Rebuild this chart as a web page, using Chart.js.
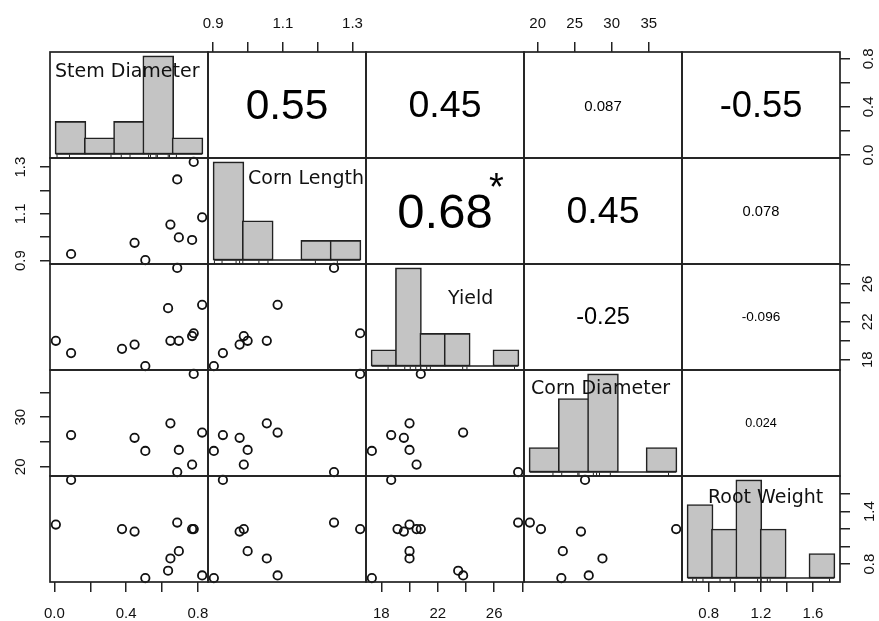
<!DOCTYPE html>
<html lang="en">
<head>
<meta charset="UTF-8">
<title>Correlation chart</title>
<script src="https://cdn.jsdelivr.net/npm/chart.js@4.4.0/dist/chart.umd.min.js"></script>
<style>
  html, body { margin: 0; padding: 0; background: #fff; overflow: hidden; }
  #wrap { position: relative; width: 879px; height: 621px; }
  canvas { position: absolute; }
  .name { position: absolute; font-family: "DejaVu Sans"; font-size: 19px; line-height: 19px; color: #111; white-space: nowrap; }
  .cor { position: absolute; font-family: "Liberation Sans", Arial, sans-serif; line-height: 1; color: #000; white-space: nowrap; transform: translate(-50%, -50%); }
</style>
</head>
<body>
<div id="wrap"></div>
<script>
const varNames = ['Stem Diameter', 'Corn Length', 'Yield', 'Corn Diameter', 'Root Weight'];

// 12 plots, null = missing value
const stemDiameter = [0.008, 0.093, 0.377, 0.447, 0.507, 0.634, 0.647, 0.685, 0.694, 0.768, 0.777, 0.824];
const cornLength   = [null, 0.928, null, 0.976, 0.902, null, 1.054, 1.247, 0.999, 0.988, 1.322, 1.085];
const yieldData    = [20.0, 18.7, 19.15, 19.6, 17.33, 23.45, 20.0, 27.7, 20.0, 20.5, 20.8, 23.8];
const cornDiameter = [null, 26.4, null, 25.85, 23.2, null, 28.75, 18.95, 23.4, 20.45, 38.7, 26.9];
const rootWeight   = [1.252, 1.762, 1.20, 1.172, 0.640, 0.724, 0.864, 1.275, 0.948, 1.20, 1.20, 0.670];

// histogram bins on the diagonal
const sdBreaks = [0, 0.2, 0.4, 0.6, 0.8, 1.0];          const sdCounts = [2, 1, 2, 6, 1];
const clBreaks = [0.9, 1.0, 1.1, 1.2, 1.3, 1.4];        const clCounts = [5, 2, 0, 1, 1];
const yieldBreaks = [16, 18, 20, 22, 24, 26, 28];       const yieldCounts = [1, 6, 2, 2, 0, 1];
const cdBreaks = [15, 20, 25, 30, 35, 40];              const cdCounts = [1, 3, 4, 0, 1];
const rwBreaks = [0.6, 0.8, 1.0, 1.2, 1.4, 1.6, 1.8];   const rwCounts = [3, 2, 4, 2, 0, 1];

// correlations in the upper panels [row, col]
const corPanels = [[0, 1], [0, 2], [0, 3], [0, 4], [1, 2], [1, 3], [1, 4], [2, 3], [2, 4], [3, 4]];
const corLabels = ['0.55', '0.45', '0.087', '-0.55', '0.68', '0.45', '0.078', '-0.25', '-0.096', '0.024'];
const corStars  = ['', '', '', '', '*', '', '', '', '', ''];

// axis ticks
const sdTicks = [0, 0.2, 0.4, 0.6, 0.8];        const sdTickLabels = ['0.0', '', '0.4', '', '0.8'];
const clTicks = [0.9, 1.0, 1.1, 1.2, 1.3];      const clTickLabels = ['0.9', '', '1.1', '', '1.3'];
const yieldTicks = [18, 20, 22, 24, 26, 28];    const yieldTickLabels = ['18', '', '22', '', '26', ''];
const cdTicks = [20, 25, 30, 35];               const cdTopLabels = ['20', '25', '30', '35'];
const cdLeftLabels = ['20', '', '30', ''];
const rwTicks = [0.8, 1.0, 1.2, 1.4, 1.6];      const rwBottomLabels = ['0.8', '', '1.2', '', '1.6'];
const rwRightLabels = ['0.8', '', '', '1.4', ''];

const vars = [stemDiameter, cornLength, yieldData, cornDiameter, rootWeight];
const hists = [[sdBreaks, sdCounts], [clBreaks, clCounts], [yieldBreaks, yieldCounts], [cdBreaks, cdCounts], [rwBreaks, rwCounts]];

const topAxes = { 1: { ticks: clTicks, labels: clTickLabels, pad: 9 }, 3: { ticks: cdTicks, labels: cdTopLabels, pad: 9 } };
const bottomAxes = { 0: { ticks: sdTicks, labels: sdTickLabels, pad: 13 }, 2: { ticks: yieldTicks, labels: yieldTickLabels, pad: 13 }, 4: { ticks: rwTicks, labels: rwBottomLabels, pad: 13 } };
const leftAxes = { 1: { ticks: clTicks, labels: clTickLabels, pad: 9 }, 3: { ticks: cdTicks, labels: cdLeftLabels, pad: 11 } };
const rightAxes = { 0: { ticks: sdTicks, labels: sdTickLabels, pad: 8 }, 2: { ticks: yieldTicks, labels: yieldTickLabels, pad: 10 }, 4: { ticks: rwTicks, labels: rwRightLabels, pad: 9 } };

const gridLeft = 50, gridTop = 52, cellW = 158, cellH = 106;
const M = 60, AX = 50;
const wrap = document.getElementById('wrap');

function padRange(lo, hi) {
    const d = (hi - lo) * 0.04;
    return [lo - d, hi + d];
}
const ranges = vars.map(v => {
    const ok = v.filter(x => x !== null);
    return padRange(Math.min(...ok), Math.max(...ok));
});

const boxPlugin = {
    id: 'panelBox',
    afterDraw(chart) {
        const { ctx, chartArea: a } = chart;
        ctx.save();
        ctx.strokeStyle = '#222';
        ctx.lineWidth = 1.7;
        ctx.strokeRect(a.left, a.top, a.right - a.left, a.bottom - a.top);
        ctx.restore();
    }
};

function makeScale(range, ax, position) {
    const s = {
        type: 'linear', min: range[0], max: range[1], bounds: 'data', offset: false,
        display: false, grid: { display: false }, border: { display: false }
    };
    if (!ax) return s;
    const horiz = position === 'top' || position === 'bottom';
    return Object.assign(s, {
        display: true,
        position: position,
        grid: { display: true, drawOnChartArea: false, drawTicks: true, tickLength: 10, color: '#222', lineWidth: 1.5 },
        ticks: {
            autoSkip: false,
            minRotation: horiz ? 0 : 90, maxRotation: horiz ? 0 : 90,
            crossAlign: horiz ? 'near' : 'center',
            padding: ax.pad,
            color: '#111',
            font: { family: 'Liberation Sans', size: 15 },
            callback: (v, i) => ax.labels[i]
        },
        afterBuildTicks: sc => { sc.ticks = ax.ticks.map(v => ({ value: v })); },
        afterFit: sc => { if (horiz) sc.height = AX; else sc.width = AX; }
    });
}

for (let r = 0; r < 5; r++) {
    for (let c = 0; c < 5; c++) {
        const W = cellW + 2 * M, H = cellH + 2 * M;
        const cv = document.createElement('canvas');
        cv.width = W; cv.height = H;
        cv.style.width = W + 'px'; cv.style.height = H + 'px';
        cv.style.left = (gridLeft + c * cellW - M) + 'px';
        cv.style.top = (gridTop + r * cellH - M) + 'px';
        wrap.appendChild(cv);

        const top = r === 0 ? topAxes[c] : null;
        const bottom = r === 4 ? bottomAxes[c] : null;
        const left = c === 0 ? leftAxes[r] : null;
        const right = c === 4 ? rightAxes[r] : null;

        const scales = {
            x: makeScale(ranges[c], top || bottom, top ? 'top' : 'bottom'),
            y: makeScale(ranges[r], left || right, left ? 'left' : 'right')
        };
        const datasets = [];

        if (r === c) {
            const [breaks, counts] = hists[r];
            const hx = padRange(breaks[0], breaks[breaks.length - 1]);
            const maxC = Math.max(...counts);
            const hy = padRange(0, maxC);
            scales.xh = makeScale(hx, null);
            scales.yh = makeScale(hy, null);
            const binPx = cellW * (breaks[1] - breaks[0]) / (hx[1] - hx[0]);
            datasets.push({
                type: 'bar', xAxisID: 'xh', yAxisID: 'yh',
                data: counts.map((n, i) => ({ x: (breaks[i] + breaks[i + 1]) / 2, y: n })),
                backgroundColor: '#c4c4c4', borderColor: '#222', borderWidth: 1.6, borderSkipped: false,
                barThickness: binPx + 1.6, grouped: false
            });
            datasets.push({
                type: 'line', xAxisID: 'xh', yAxisID: 'yh',
                data: [{ x: breaks[0], y: 0 }, { x: breaks[breaks.length - 1], y: 0 }],
                borderColor: '#222', borderWidth: 1.6, pointRadius: 0
            });
            const rugY = hy[0] + 0.015 * (hy[1] - hy[0]);
            datasets.push({
                type: 'scatter', xAxisID: 'xh', yAxisID: 'yh',
                data: vars[r].filter(v => v !== null).map(v => ({ x: v, y: rugY })),
                pointStyle: 'line', pointRotation: 90, pointRadius: 1.8,
                pointBorderWidth: 1, pointBorderColor: '#222'
            });
        } else if (r > c) {
            const pts = [];
            vars[c].forEach((xv, i) => {
                const yv = vars[r][i];
                if (xv !== null && yv !== null) pts.push({ x: xv, y: yv });
            });
            datasets.push({
                type: 'scatter', xAxisID: 'x', yAxisID: 'y', data: pts,
                pointRadius: 4.2, pointBorderWidth: 1.8, pointBorderColor: '#111',
                pointBackgroundColor: 'rgba(0,0,0,0)', clip: false
            });
        }

        new Chart(cv, {
            type: 'scatter',
            data: { datasets },
            options: {
                responsive: false, animation: false, devicePixelRatio: 1, events: [],
                layout: {
                    padding: {
                        top: top ? M - AX : M, bottom: bottom ? M - AX : M,
                        left: left ? M - AX : M, right: right ? M - AX : M
                    }
                },
                plugins: { legend: { display: false }, tooltip: { enabled: false } },
                scales
            },
            plugins: [boxPlugin]
        });
    }
}

// variable names on the diagonal
const namePos = [[55, 61], [248, 168], [448, 288], [531, 378], [708, 487]];
varNames.forEach((n, i) => {
    const d = document.createElement('div');
    d.className = 'name';
    d.textContent = n;
    d.style.left = namePos[i][0] + 'px';
    d.style.top = namePos[i][1] + 'px';
    wrap.appendChild(d);
});

// correlation text, sized like R's panel.cor
const mctx = document.createElement('canvas').getContext('2d');
mctx.font = '100px "Liberation Sans"';
corPanels.forEach(([r, c], k) => {
    const txt = corLabels[k];
    const target = 0.8 * cellW * (Math.abs(parseFloat(txt)) + 0.3) / 1.3;
    const size = 100 * target / mctx.measureText(txt).width;
    const d = document.createElement('div');
    d.className = 'cor';
    d.textContent = txt;
    d.style.fontSize = size.toFixed(1) + 'px';
    d.style.left = (gridLeft + c * cellW + cellW / 2) + 'px';
    d.style.top = (gridTop + r * cellH + cellH / 2) + 'px';
    wrap.appendChild(d);
    if (corStars[k]) {
        const s = document.createElement('div');
        s.className = 'cor';
        s.textContent = corStars[k];
        s.style.fontSize = '38px';
        s.style.left = (gridLeft + c * cellW + 0.825 * cellW) + 'px';
        s.style.top = (gridTop + (r + 1) * cellH - 0.8 * cellH + 8) + 'px';
        wrap.appendChild(s);
    }
});
</script>
</body>
</html>
